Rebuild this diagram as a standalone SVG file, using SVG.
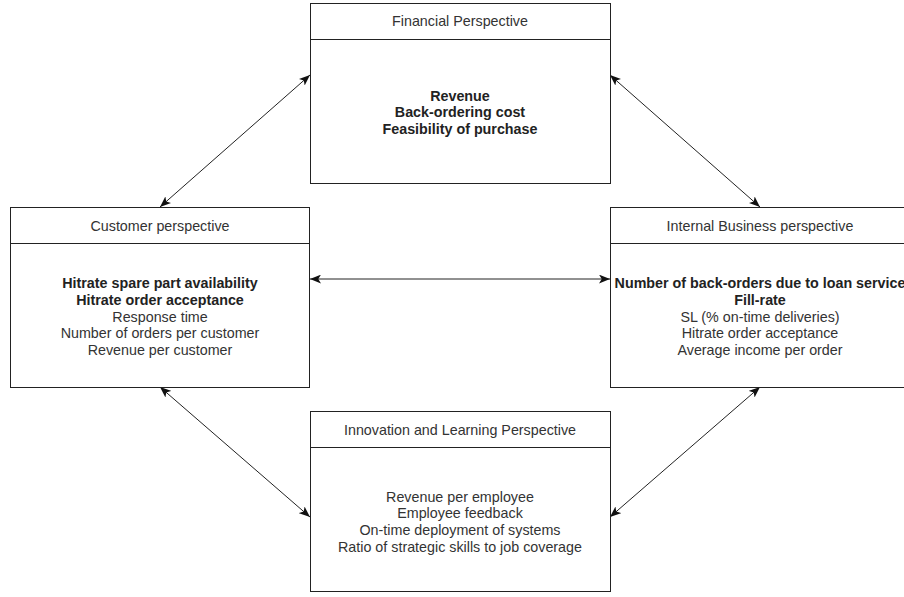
<svg xmlns="http://www.w3.org/2000/svg" width="904" height="597" viewBox="0 0 904 597">
  <style>
    .box { fill: #ffffff; stroke: #222222; stroke-width: 1; }
    .sep { stroke: #222222; stroke-width: 1; fill: none; }
    .title { font-family: "Liberation Sans", Arial, Helvetica, sans-serif; font-size: 14.3px; fill: #333333; text-anchor: middle; }
    .body { font-family: "Liberation Sans", Arial, Helvetica, sans-serif; font-size: 14.3px; fill: #333333; text-anchor: middle; }
    .b { font-weight: bold; fill: #222222; }
    .link { stroke: #222222; stroke-width: 1; fill: none; marker-start: url(#arrow); marker-end: url(#arrow); }
  </style>
  <defs>
    <marker id="arrow" viewBox="0 0 10 8" refX="10" refY="4" markerWidth="11" markerHeight="9" markerUnits="userSpaceOnUse" orient="auto-start-reverse">
      <path d="M0,0 L10,4 L0,8 L2.5,4 Z" fill="#111111"/>
    </marker>
  </defs>
  <rect width="904" height="597" fill="#ffffff"/>

  <g id="connectors">
    <line class="link" x1="160" y1="207" x2="310" y2="75"/>
    <line class="link" x1="610" y1="75" x2="760" y2="207"/>
    <line class="link" x1="310" y1="279" x2="610" y2="279"/>
    <line class="link" x1="160" y1="387" x2="310" y2="517"/>
    <line class="link" x1="760" y1="387" x2="610" y2="517"/>
  </g>

  <g id="financial">
    <rect class="box" x="310.5" y="3.5" width="300" height="180"/>
    <line class="sep" x1="310.5" y1="39.5" x2="610.5" y2="39.5"/>
    <text class="title" x="460" y="26">Financial Perspective</text>
    <text class="body b" x="460" y="100.5">Revenue</text>
    <text class="body b" x="460" y="117.3">Back-ordering cost</text>
    <text class="body b" x="460" y="134.1">Feasibility of purchase</text>
  </g>

  <g id="customer">
    <rect class="box" x="10.5" y="207.5" width="299" height="180"/>
    <line class="sep" x1="10.5" y1="243.5" x2="309.5" y2="243.5"/>
    <text class="title" x="160" y="230.5">Customer perspective</text>
    <text class="body b" x="160" y="288">Hitrate spare part availability</text>
    <text class="body b" x="160" y="304.8">Hitrate order acceptance</text>
    <text class="body" x="160" y="321.6">Response time</text>
    <text class="body" x="160" y="338.4">Number of orders per customer</text>
    <text class="body" x="160" y="355.2">Revenue per customer</text>
  </g>

  <g id="internal">
    <rect class="box" x="610.5" y="207.5" width="300" height="180"/>
    <line class="sep" x1="610.5" y1="243.5" x2="910.5" y2="243.5"/>
    <text class="title" x="760" y="230.5">Internal Business perspective</text>
    <text class="body b" x="760" y="288">Number of back-orders due to loan service</text>
    <text class="body b" x="760" y="304.8">Fill-rate</text>
    <text class="body" x="760" y="321.6">SL (% on-time deliveries)</text>
    <text class="body" x="760" y="338.4">Hitrate order acceptance</text>
    <text class="body" x="760" y="355.2">Average income per order</text>
  </g>

  <g id="innovation">
    <rect class="box" x="310.5" y="411.5" width="300" height="180"/>
    <line class="sep" x1="310.5" y1="447.5" x2="610.5" y2="447.5"/>
    <text class="title" x="460" y="435">Innovation and Learning Perspective</text>
    <text class="body" x="460" y="501.5">Revenue per employee</text>
    <text class="body" x="460" y="518.3">Employee feedback</text>
    <text class="body" x="460" y="535.1">On-time deployment of systems</text>
    <text class="body" x="460" y="551.9">Ratio of strategic skills to job coverage</text>
  </g>
</svg>
